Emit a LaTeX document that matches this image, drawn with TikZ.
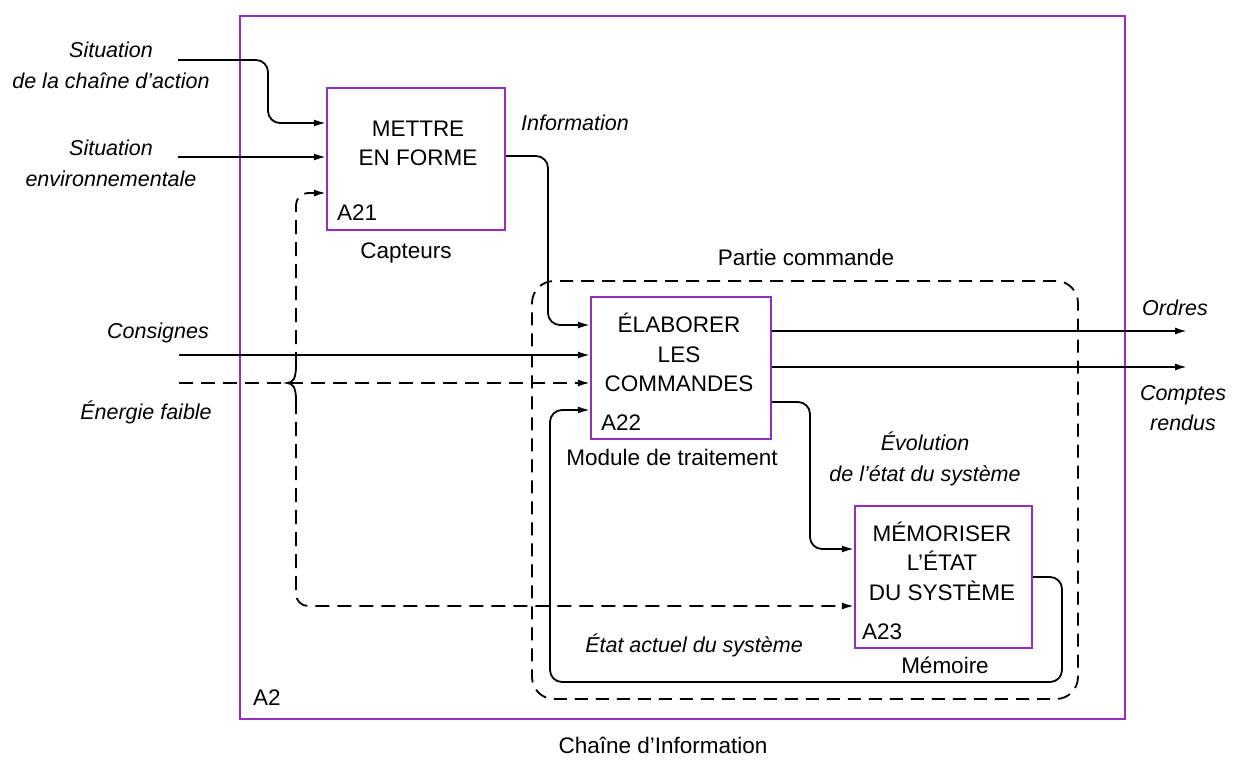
\documentclass[tikz,border=0pt]{standalone}
\usepackage{fontspec}
\setmainfont{Liberation Sans}
\usetikzlibrary{arrows.meta,calc}
\definecolor{purp}{RGB}{150,45,190}
\begin{document}
\begin{tikzpicture}[x=1pt,y=-1pt,
  box/.style={draw=purp,line width=2.2pt,minimum width=#1,minimum height=142pt,inner sep=0pt},
  up/.style={font=\fontsize{22.5}{29.5}\selectfont,align=center,inner sep=0pt},
  it/.style={font=\fontsize{21.5}{30.5}\selectfont\itshape,align=center,inner sep=0pt},
  conn/.style={line width=1.8pt,rounded corners=12pt,-{Latex[length=12pt,width=7pt]}},
  plain/.style={line width=1.8pt,rounded corners=12pt},
  dsh/.style={dash pattern=on 14pt off 8pt},
  frame/.style={draw=purp,line width=2.8pt,inner sep=0pt}]
\useasboundingbox (0,0) rectangle (1239,762);

% outer frame and control part
\node[frame,minimum width=885pt,minimum height=703pt] (a2) at (682.5,367.5) {};
\node[draw,line width=1.8pt,dash pattern=on 13pt off 8pt,rounded corners=22pt,minimum width=546pt,minimum height=418pt,inner sep=0pt] (pc) at (805,490) {};

% boxes
\node[box=178pt] (a21) at (416,159) {};
\node[box=180pt] (a22) at (681,368) {};
\node[box=177pt] (a23) at (943.5,577) {};

% box texts
\node[up] (t21) at (418,143.5) {METTRE\\EN FORME};
\node[up] (t22) at (679,352.5) {ÉLABORER\\LES\\COMMANDES};
\node[up] (t23) at (942,561) {MÉMORISER\\L’ÉTAT\\DU SYSTÈME};
\node[up,anchor=west] (l21) at (337,213) {A21};
\node[up,anchor=west] (l22) at (601,423) {A22};
\node[up,anchor=west] (l23) at (862,632) {A23};
\node[up,anchor=west] (l2) at (253,698) {A2};

% other labels
\node[up] (cap) at (406,253) {Capteurs};
\node[up] (part) at (806,257) {Partie commande};
\node[up] (mod) at (672,457) {Module de traitement};
\node[up] (mem) at (945,665) {Mémoire};
\node[up] (chi) at (663,745) {Chaîne d’Information};

\node[it] (sit1) at (111,65.5) {Situation\\de la chaîne d’action};
\node[it] (sit2) at (111,163.5) {Situation\\environnementale};
\node[it] (cons) at (158,333) {Consignes};
\node[it] (ener) at (146,412) {Énergie faible};
\node[it] (info) at (575,123) {Information};
\node[it] (ord) at (1175,308) {Ordres};
\node[it] (cr) at (1183,408) {Comptes\\rendus};
\node[it] (evo) at (925,459) {Évolution\\de l’état du système};
\node[it] (eta) at (694,645) {État actuel du système};

% free ends
\coordinate (s1) at (178,60);
\coordinate (s2) at (178,157);
\coordinate (s3) at (179,355);
\coordinate (s4) at (179,383);
\coordinate (tip) at (287,383);
\coordinate (o1) at (1187,331);
\coordinate (o2) at (1187,367);

% inputs to A21
\draw[conn] (s1) -- (268,60) -- (268,123) -- (a21.west |- 0,123);
\draw[conn] (s2) -- (a21.west |- 0,157);
% information
\draw[conn] (a21.east |- 0,156) -- (548,156) -- (548,325) -- (a22.west |- 0,325);
% consignes
\draw[conn] (s3) -- (a22.west |- 0,355);
% energy
\draw[conn,dsh] (s4) -- (a22.west |- 0,383);
\draw[line width=1.8pt] (296,366) .. controls (296,378) and (293,383) .. (tip)
      .. controls (293,383) and (296,388) .. (296,400);
\draw[conn,dsh] (296,366) -- (296,193) -- (a21.west |- 0,193);
\draw[conn,dsh] (296,400) -- (296,606) -- (a23.west |- 0,606);
% outputs
\draw[conn] (a22.east |- 0,331) -- (o1);
\draw[conn] (a22.east |- 0,367) -- (o2);
% evolution
\draw[conn] (a22.east |- 0,402) -- (810,402) -- (810,549) -- (a23.west |- 0,549);
% feedback
\draw[conn] (a23.east |- 0,577) -- (1062,577) -- (1062,682) -- (550,682) -- (550,410) -- (a22.west |- 0,410);
\end{tikzpicture}
\end{document}
